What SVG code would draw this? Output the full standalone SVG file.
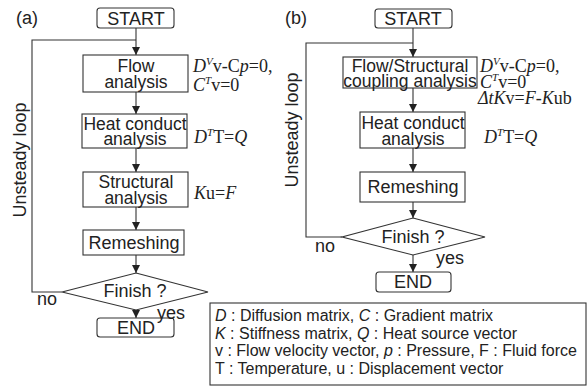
<svg xmlns="http://www.w3.org/2000/svg" width="587" height="388" viewBox="0 0 587 388">
<defs>
<marker id="ah" markerWidth="8" markerHeight="9" refX="8" refY="4" orient="auto" markerUnits="userSpaceOnUse">
<path d="M0,0 L8,4 L0,8 Z" fill="#222"/>
</marker>
<style>
.b{fill:#fff;stroke:#333;stroke-width:1.1}
.t{font-family:"Liberation Sans",Arial,sans-serif;font-size:18px;fill:#222;text-anchor:middle}
.t2{font-family:"Liberation Sans",Arial,sans-serif;font-size:17.5px;fill:#222;text-anchor:middle}
.l{font-family:"Liberation Sans",Arial,sans-serif;font-size:18px;fill:#222}
.e{font-family:"Liberation Serif","Times New Roman",serif;font-size:18px;fill:#222}
.s{font-size:11px}
.g{font-family:"Liberation Sans",Arial,sans-serif;font-size:16px;fill:#222}
.c{fill:none;stroke:#333;stroke-width:1.1}
.a{fill:none;stroke:#333;stroke-width:1.1;marker-end:url(#ah)}
</style>
</defs>
<rect width="587" height="388" fill="#fff"/>
<text class="l" x="16" y="24">(a)</text>
<text class="l" x="285" y="24">(b)</text>

<g id="connectors">
<line class="a" x1="136" y1="28" x2="136" y2="55"/>
<polyline class="c" points="62,292 32,292 32,40 136,40"/>
<line class="a" x1="136" y1="92" x2="136" y2="114"/>
<line class="a" x1="136" y1="148" x2="136" y2="172"/>
<line class="a" x1="136" y1="207" x2="136" y2="230"/>
<line class="a" x1="136" y1="255" x2="136" y2="273"/>
<line class="a" x1="136" y1="310" x2="136" y2="318"/>
<line class="a" x1="413" y1="28" x2="413" y2="57"/>
<polyline class="c" points="342,237 306,237 306,43 413,43"/>
<line class="a" x1="413" y1="88" x2="413" y2="112"/>
<line class="a" x1="413" y1="148" x2="413" y2="172"/>
<line class="a" x1="413" y1="202" x2="413" y2="218"/>
<line class="a" x1="413" y1="255" x2="413" y2="272"/>
</g>

<g id="a-start"><rect class="b" x="97" y="8" width="77" height="20" rx="3"/><text class="t" x="136" y="25">START</text></g>
<g id="a-flow"><rect class="b" x="83" y="55" width="105" height="37"/><text class="t2" x="136" y="72">Flow</text><text class="t2" x="136" y="88">analysis</text></g>
<g id="a-heat"><rect class="b" x="82" y="114" width="105" height="34"/><text class="t2" x="135" y="129.5">Heat conduct</text><text class="t2" x="135" y="145">analysis</text></g>
<g id="a-struct"><rect class="b" x="83" y="172" width="105" height="35"/><text class="t2" x="136" y="188">Structural</text><text class="t2" x="136" y="203.5">analysis</text></g>
<g id="a-remesh"><rect class="b" x="83" y="230" width="101" height="25"/><text class="t" x="134" y="249">Remeshing</text></g>
<g id="a-finish"><polygon class="b" points="136,273 208,292 136,310 62,292"/><text class="t" x="135" y="297">Finish ?</text></g>
<g id="a-end"><rect class="b" x="97" y="318" width="77" height="19" rx="3"/><text class="t" x="136" y="334">END</text></g>
<text class="l" x="37" y="305">no</text>
<text class="l" x="157" y="319">yes</text>
<text class="t" transform="translate(26,160) rotate(-90)">Unsteady loop</text>

<text class="e" x="193" y="72"><tspan font-style="italic">D</tspan><tspan class="s" font-style="italic" dy="-7">V</tspan><tspan dy="7">v-C</tspan><tspan font-style="italic">p</tspan>=0,</text>
<text class="e" x="193" y="91"><tspan font-style="italic">C</tspan><tspan class="s" font-style="italic" dy="-7">T</tspan><tspan dy="7">v=0</tspan></text>
<text class="e" x="194" y="143"><tspan font-style="italic">D</tspan><tspan class="s" font-style="italic" dy="-7">T</tspan><tspan dy="7">T=</tspan><tspan font-style="italic">Q</tspan></text>
<text class="e" x="194" y="199"><tspan font-style="italic">K</tspan>u=<tspan font-style="italic">F</tspan></text>

<g id="b-start"><rect class="b" x="375" y="9" width="77" height="19" rx="3"/><text class="t" x="413" y="25">START</text></g>
<g id="b-flow"><rect class="b" x="343" y="57" width="134" height="31"/><text class="t2" x="410" y="72">Flow/Structural</text><text class="t2" x="410" y="86.5">coupling analysis</text></g>
<g id="b-heat"><rect class="b" x="360" y="112" width="105" height="36"/><text class="t2" x="413" y="129">Heat conduct</text><text class="t2" x="413" y="145">analysis</text></g>
<g id="b-remesh"><rect class="b" x="360" y="172" width="105" height="30"/><text class="t" x="413" y="193">Remeshing</text></g>
<g id="b-finish"><polygon class="b" points="413,218 485,237 413,255 342,237"/><text class="t" x="413" y="243">Finish ?</text></g>
<g id="b-end"><rect class="b" x="376" y="272" width="75" height="20" rx="3"/><text class="t" x="413" y="288">END</text></g>
<text class="l" x="315" y="252">no</text>
<text class="l" x="436" y="264">yes</text>
<text class="t" transform="translate(298,130) rotate(-90)">Unsteady loop</text>

<text class="e" x="480" y="72"><tspan font-style="italic">D</tspan><tspan class="s" font-style="italic" dy="-7">V</tspan><tspan dy="7">v-C</tspan><tspan font-style="italic">p</tspan>=0,</text>
<text class="e" x="480" y="88"><tspan font-style="italic">C</tspan><tspan class="s" font-style="italic" dy="-7">T</tspan><tspan dy="7">v=0</tspan></text>
<text class="e" x="478" y="103.5" font-style="italic">Δt<tspan>K</tspan><tspan font-style="normal">v=</tspan>F<tspan font-style="normal">-</tspan>K<tspan font-style="normal">ub</tspan></text>
<text class="e" x="484" y="143"><tspan font-style="italic">D</tspan><tspan class="s" font-style="italic" dy="-7">T</tspan><tspan dy="7">T=</tspan><tspan font-style="italic">Q</tspan></text>

<g id="legend">
<rect x="210" y="303" width="376" height="82" fill="#fff" stroke="#333" stroke-width="1.1"/>
<text class="g" x="215" y="321"><tspan font-style="italic">D</tspan> : Diffusion matrix, <tspan font-style="italic">C</tspan> : Gradient matrix</text>
<text class="g" x="215" y="338.5"><tspan font-style="italic">K</tspan> : Stiffness matrix, <tspan font-style="italic">Q</tspan> : Heat source vector</text>
<text class="g" x="215" y="356">v : Flow velocity vector, <tspan font-style="italic">p</tspan> : Pressure, F : Fluid force</text>
<text class="g" x="215" y="373.5">T : Temperature, u : Displacement vector</text>
</g>
</svg>
